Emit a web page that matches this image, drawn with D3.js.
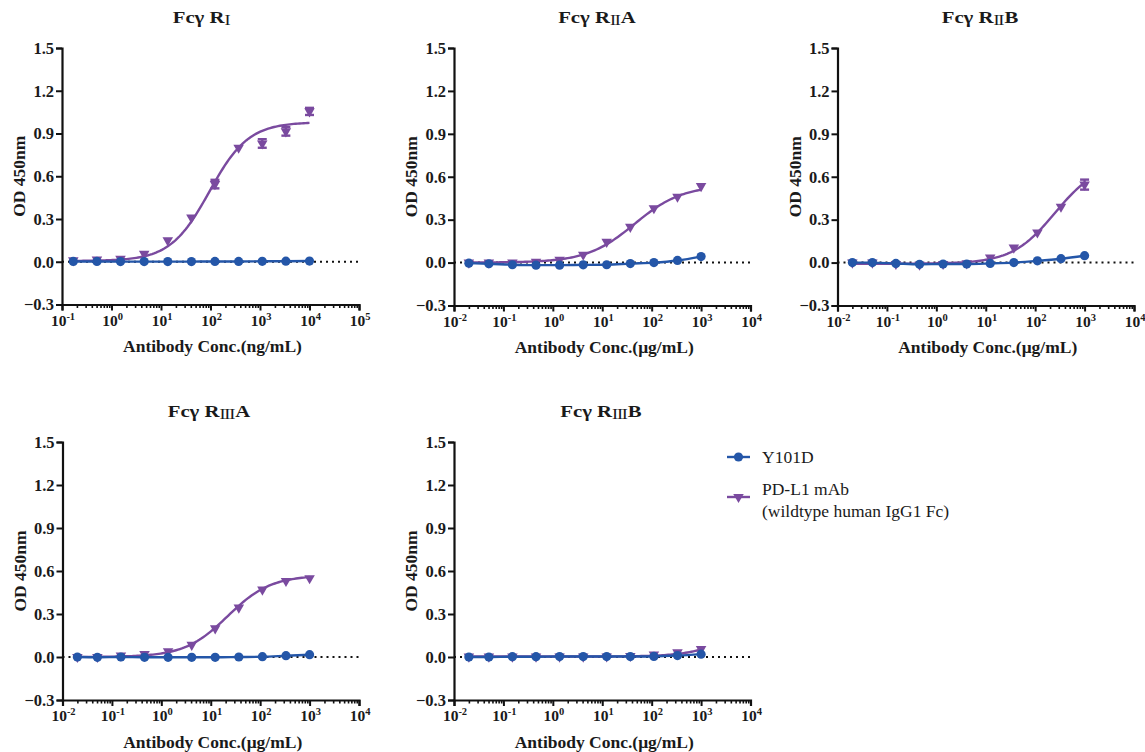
<!DOCTYPE html>
<html>
<head>
<meta charset="utf-8">
<script src="https://cdn.jsdelivr.net/npm/d3@7"></script>
<style>
  body { margin: 0; background: #fff; }
  svg text { font-family: "Liberation Serif", "DejaVu Serif", serif; fill: #1a1a1a; }
</style>
</head>
<body>
<svg id="chart" width="1145" height="752"></svg>
<script>
// dilution series (3-fold), ascending
var concNg = [0.169, 0.508, 1.52, 4.57, 13.7, 41.2, 123, 370, 1111, 3333, 10000];
var concUg = [0.02, 0.0508, 0.152, 0.457, 1.37, 4.12, 12.3, 37, 111, 333, 1000];

// OD450 means, PD-L1 mAb (purple) and Y101D (blue)
var fc1Pd = [0.01, 0.015, 0.02, 0.055, 0.15, 0.31, 0.545, 0.80, 0.83, 0.915, 1.055];
var fc1PdErr = [0, 0, 0, 0, 0, 0, 0.03, 0, 0.03, 0.03, 0.025];
var fc1Y = [0.002, 0.002, 0.001, 0.001, 0.001, 0.001, 0.002, 0.002, 0.003, 0.004, 0.005];

var fc2aPd = [0.0, 0.0, 0.0, 0.005, 0.02, 0.055, 0.145, 0.25, 0.38, 0.46, 0.535];
var fc2aY = [-0.004, -0.008, -0.015, -0.018, -0.018, -0.016, -0.015, -0.007, 0.0, 0.015, 0.042];

var fc2bPd = [0.0, 0.0, -0.01, -0.015, -0.01, -0.005, 0.035, 0.105, 0.21, 0.39, 0.545];
var fc2bPdErr = [0, 0, 0, 0, 0, 0, 0, 0, 0, 0, 0.035];
var fc2bY = [0.0, 0.0, -0.006, -0.012, -0.01, -0.01, -0.006, 0.0, 0.012, 0.027, 0.048];

var fc3aPd = [0.0, 0.0, 0.01, 0.02, 0.04, 0.085, 0.2, 0.345, 0.47, 0.53, 0.55];
var fc3aY = [0.0, -0.002, 0.0, -0.002, -0.002, -0.002, -0.002, 0.0, 0.002, 0.009, 0.016];

var fc3bPd = [0.003, 0.003, 0.003, 0.003, 0.003, 0.003, 0.004, 0.007, 0.018, 0.032, 0.055];
var fc3bY = [0.0, 0.0, 0.002, 0.002, 0.003, 0.003, 0.003, 0.003, 0.004, 0.01, 0.02];

// 4PL fit parameters for PD-L1 mAb: [bottom, top, EC50, hill]
var fit1 = [0.005, 0.98, 95, 1.1];
var fit2a = [0.0, 0.54, 45, 0.9];
var fit2b = [-0.008, 0.7, 250, 1.0];
var fit3a = [0.0, 0.57, 22, 1.0];
var fit3b = [0.003, 0.3, 5000, 1.0];

var yTicks = [-0.3, 0.0, 0.3, 0.6, 0.9, 1.2, 1.5];

var BLUE = "#2456a8", PURPLE = "#7a4a9f";
var SERIF = "'Liberation Serif', 'DejaVu Serif', serif";

var panels = [
  {t: "Fcγ R", sub: "I", suf: "", unit: "Antibody Conc.(ng/mL)", conc: concNg, exp: [-1, 5],
   pd: fc1Pd, err: fc1PdErr, y: fc1Y, fit: fit1, box: [62, 359, 48, 304.5], tx: 201},
  {t: "Fcγ R", sub: "II", suf: "A", unit: "Antibody Conc.(μg/mL)", conc: concUg, exp: [-2, 4],
   pd: fc2aPd, err: null, y: fc2aY, fit: fit2a, box: [454, 750.5, 48, 305.5], tx: 597},
  {t: "Fcγ R", sub: "II", suf: "B", unit: "Antibody Conc.(μg/mL)", conc: concUg, exp: [-2, 4],
   pd: fc2bPd, err: fc2bPdErr, y: fc2bY, fit: fit2b, box: [837.5, 1134, 48, 305.5], tx: 980},
  {t: "Fcγ R", sub: "III", suf: "A", unit: "Antibody Conc.(μg/mL)", conc: concUg, exp: [-2, 4],
   pd: fc3aPd, err: null, y: fc3aY, fit: fit3a, box: [62.5, 359, 442, 700], tx: 209},
  {t: "Fcγ R", sub: "III", suf: "B", unit: "Antibody Conc.(μg/mL)", conc: concUg, exp: [-2, 4],
   pd: fc3bPd, err: null, y: fc3bY, fit: fit3b, box: [454, 750.5, 442, 700], tx: 601}
];

var svg = d3.select("#chart");

function fourPL(p, x) {
  return p[0] + (p[1] - p[0]) / (1 + Math.pow(p[2] / x, p[3]));
}

function drawPanel(p) {
  var L = p.box[0], R = p.box[1], T = p.box[2], B = p.box[3];
  var x = d3.scaleLog().domain([Math.pow(10, p.exp[0]), Math.pow(10, p.exp[1])]).range([L, R]);
  var y = d3.scaleLinear().domain([-0.3, 1.5]).range([B, T]);
  var g = svg.append("g");

  // title, receptor class as small roman numerals; the face is set wide
  var title = g.append("text")
    .attr("transform", "translate(" + p.tx + "," + (T - 25.5) + ") scale(1.22,1)")
    .attr("text-anchor", "middle")
    .style("font-size", "17px").style("font-weight", "bold");
  title.append("tspan").text(p.t);
  title.append("tspan").text(p.sub)
    .style("font-weight", "normal").style("font-size", "15px")
    .style("letter-spacing", "-1px")
    .attr("dy", 2.5);
  title.append("tspan").text(p.suf).attr("dy", -2.5).attr("dx", 1);

  // zero reference
  g.append("line")
    .attr("x1", L).attr("x2", R).attr("y1", y(0)).attr("y2", y(0))
    .attr("stroke", "#111").attr("stroke-width", 2)
    .attr("stroke-dasharray", "2,4");

  // y axis
  var ya = g.append("g").attr("transform", "translate(" + L + ",0)")
    .call(d3.axisLeft(y).tickValues(yTicks).tickSize(6).tickPadding(2)
      .tickFormat(d3.format(".1f")));
  ya.select(".domain").attr("stroke", "#111").attr("stroke-width", 2.2);
  ya.selectAll(".tick line").attr("stroke", "#111").attr("stroke-width", 2);
  ya.selectAll(".tick text")
    .style("font-family", SERIF)
    .style("font-size", "16.5px").style("font-weight", "bold").attr("fill", "#1a1a1a");

  // x axis: minor ticks, then decades
  var minors = [];
  for (var e = p.exp[0]; e < p.exp[1]; e++)
    for (var k = 2; k <= 9; k++) minors.push(k * Math.pow(10, e));
  var decades = d3.range(p.exp[0], p.exp[1] + 1).map(function(e) { return Math.pow(10, e); });

  var xm = g.append("g").attr("transform", "translate(0," + B + ")")
    .call(d3.axisBottom(x).tickValues(minors).tickSize(3.5).tickFormat(""));
  xm.select(".domain").remove();
  xm.selectAll(".tick line").attr("stroke", "#111").attr("stroke-width", 1.6);

  var xa = g.append("g").attr("transform", "translate(0," + B + ")")
    .call(d3.axisBottom(x).tickValues(decades).tickSize(6).tickFormat(""));
  xa.select(".domain").attr("stroke", "#111").attr("stroke-width", 2.2);
  xa.selectAll(".tick line").attr("stroke", "#111").attr("stroke-width", 2);

  decades.forEach(function(v, i) {
    var lab = g.append("text")
      .attr("x", x(v) + 1).attr("y", B + 21)
      .attr("text-anchor", "middle")
      .style("font-family", SERIF)
      .style("font-size", "15.5px").style("font-weight", "bold");
    lab.append("tspan").text("10");
    lab.append("tspan").text(String(p.exp[0] + i))
      .attr("dy", -6).style("font-size", "10.5px");
  });

  // axis titles
  g.append("text")
    .attr("x", (L + R) / 2 + 2).attr("y", B + 47.5)
    .attr("text-anchor", "middle")
    .style("font-family", SERIF)
    .style("font-size", "17.5px").style("font-weight", "bold")
    .text(p.unit);
  g.append("text")
    .attr("transform", "translate(" + (L - 37) + "," + ((T + B) / 2) + ") rotate(-90)")
    .attr("text-anchor", "middle")
    .style("font-family", SERIF)
    .style("font-size", "17.5px").style("font-weight", "bold")
    .text("OD 450nm");

  // fitted curve, PD-L1 mAb
  var lo = Math.log10(p.conc[0]), hi = Math.log10(p.conc[p.conc.length - 1]);
  var xs = d3.range(0, 121).map(function(i) { return Math.pow(10, lo + (hi - lo) * i / 120); });
  g.append("path")
    .datum(xs)
    .attr("fill", "none").attr("stroke", PURPLE).attr("stroke-width", 2.4)
    .attr("d", d3.line().x(function(d) { return x(d); }).y(function(d) { return y(fourPL(p.fit, d)); }));

  // error bars
  if (p.err) {
    p.conc.forEach(function(c, i) {
      var e = p.err[i];
      if (!e) return;
      var cx = x(c);
      g.append("line").attr("x1", cx).attr("x2", cx)
        .attr("y1", y(p.pd[i] - e)).attr("y2", y(p.pd[i] + e))
        .attr("stroke", PURPLE).attr("stroke-width", 2.4);
      [p.pd[i] - e, p.pd[i] + e].forEach(function(v) {
        g.append("line").attr("x1", cx - 4.5).attr("x2", cx + 4.5)
          .attr("y1", y(v)).attr("y2", y(v))
          .attr("stroke", PURPLE).attr("stroke-width", 2.4);
      });
    });
  }

  // PD-L1 mAb markers
  var tri = d3.symbol().type(d3.symbolTriangle).size(48);
  g.selectAll(".pd").data(p.pd).enter().append("path")
    .attr("d", tri)
    .attr("transform", function(d, i) { return "translate(" + x(p.conc[i]) + "," + y(d) + ") rotate(180)"; })
    .attr("fill", PURPLE);

  // Y101D line + markers
  var pts = p.y.map(function(v, i) { return [p.conc[i], v]; });
  g.append("path")
    .datum(pts)
    .attr("fill", "none").attr("stroke", BLUE).attr("stroke-width", 2.4)
    .attr("d", d3.line().curve(d3.curveMonotoneX)
      .x(function(d) { return x(d[0]); }).y(function(d) { return y(d[1]); }));
  g.selectAll(".yd").data(pts).enter().append("circle")
    .attr("cx", function(d) { return x(d[0]); })
    .attr("cy", function(d) { return y(d[1]); })
    .attr("r", 4.6)
    .attr("fill", BLUE);
}

panels.forEach(drawPanel);

// legend
var leg = svg.append("g").style("font-family", SERIF);
leg.append("line").attr("x1", 727).attr("x2", 750).attr("y1", 457).attr("y2", 457)
  .attr("stroke", BLUE).attr("stroke-width", 2.4);
leg.append("circle").attr("cx", 738.5).attr("cy", 457).attr("r", 4.6).attr("fill", BLUE);
leg.append("text").attr("x", 762).attr("y", 463).style("font-size", "17.5px").text("Y101D");

leg.append("line").attr("x1", 727).attr("x2", 750).attr("y1", 497).attr("y2", 497)
  .attr("stroke", PURPLE).attr("stroke-width", 2.4);
leg.append("path").attr("d", d3.symbol().type(d3.symbolTriangle).size(48))
  .attr("transform", "translate(738.5,497) rotate(180)").attr("fill", PURPLE);
leg.append("text").attr("x", 762).attr("y", 495).style("font-size", "17.5px").text("PD-L1 mAb");
leg.append("text").attr("x", 762).attr("y", 517).style("font-size", "17.5px").text("(wildtype human IgG1 Fc)");
</script>
</body>
</html>
